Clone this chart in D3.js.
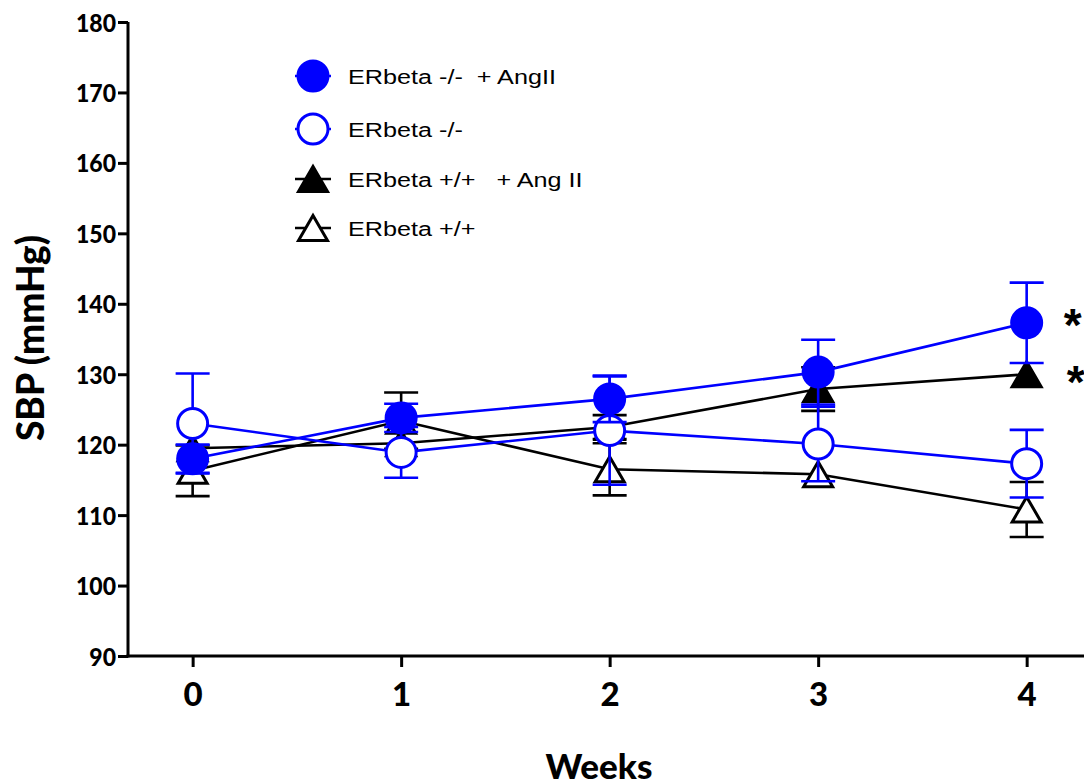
<!DOCTYPE html>
<html><head><meta charset="utf-8">
<script src="https://cdn.jsdelivr.net/npm/d3@7"></script>
<style>body{margin:0;background:#fff}svg{display:block}</style>
</head><body>
<svg id="c" width="1084" height="782"></svg>
<script>
const weeks = [0, 1, 2, 3, 4];
const yTicks = [90, 100, 110, 120, 130, 140, 150, 160, 170, 180];
const koAng = [118.0, 123.8, 126.5, 130.3, 137.3];
const koAngErr = [2.0, 2.0, 3.3, 4.6, 5.7];
const ko = [123.0, 118.9, 122.0, 120.1, 117.3];
const koErr = [7.1, 3.6, 7.7, 5.3, 4.8];
const wtAng = [119.5, 120.2, 122.5, 127.9, 130.0];
const wtAngErr = [0, 0, 1.7, 3.1, 0];
const wt = [116.3, 123.4, 116.5, 115.8, 110.8];
const wtErr = [3.6, 4.0, 3.7, 0, 3.9];
const labels = ["ERbeta -/-  + AngII", "ERbeta -/-", "ERbeta +/+   + Ang II", "ERbeta +/+"];
const stars = [{w: 4, v: 138.2}, {w: 4, v: 130.2}];

const series = [
  {name: labels[3], vals: wt, err: wtErr, color: "#000", shape: "tri", fill: "#fff"},
  {name: labels[2], vals: wtAng, err: wtAngErr, color: "#000", shape: "tri", fill: "#000"},
  {name: labels[1], vals: ko, err: koErr, color: "#0000ff", shape: "circ", fill: "#fff"},
  {name: labels[0], vals: koAng, err: koAngErr, color: "#0000ff", shape: "circ", fill: "#0000ff"}
];

const svg = d3.select("#c");
const x = d3.scaleLinear().domain([-0.31, 4.275]).range([128, 1084]);
const y = d3.scaleLinear().domain([90, 180]).range([656, 22]);
const bold = "Lato, 'Open Sans', sans-serif";

// axes
const ya = svg.append("g").attr("transform", "translate(128,0)")
  .call(d3.axisLeft(y).tickValues(yTicks).tickSize(10).tickSizeOuter(0).tickFormat(d3.format("d")));
ya.select(".domain").attr("stroke-width", 3).attr("d", "M0," + y(180) + "V" + (y(90) + 1.5));
ya.selectAll(".tick line").attr("stroke-width", 3);
ya.selectAll(".tick text").attr("x", 0).attr("dy", "0.36em")
  .attr("transform", `translate(-12,0) scale(0.92,1)`)
  .style("font-family", bold).style("font-weight", 900).style("font-size", "25px").attr("fill", "#000");

const xa = svg.append("g").attr("transform", "translate(0,656)")
  .call(d3.axisBottom(x).tickValues(weeks).tickSize(11).tickSizeOuter(0).tickFormat(d3.format("d")));
xa.select(".domain").attr("stroke-width", 3).attr("d", "M126.5,0H1084");
xa.selectAll(".tick line").attr("stroke-width", 3);
xa.selectAll(".tick text").attr("y", 50).attr("dy", 0)
  .style("font-family", bold).style("font-weight", 900).style("font-size", "33px").attr("fill", "#000");

svg.append("text").attr("x", 599).attr("y", 779).attr("text-anchor", "middle")
  .style("font-family", bold).style("font-weight", 900).style("font-size", "35px").text("Weeks");
svg.append("text").attr("transform", `translate(44,338) rotate(-90)`).attr("text-anchor", "middle")
  .style("font-family", bold).style("font-weight", 900).style("font-size", "37px").text("SBP (mmHg)");

function triPath(cx, cy) {
  const w = 29, h = 25;
  return `M${cx},${cy - h / 2}L${cx + w / 2},${cy + h / 2}L${cx - w / 2},${cy + h / 2}Z`;
}
function marker(g, s, cx, cy) {
  if (s.shape === "circ") {
    g.append("circle").attr("cx", cx).attr("cy", cy).attr("r", 15)
      .attr("fill", s.fill).attr("stroke", s.color).attr("stroke-width", 3);
  } else {
    g.append("path").attr("d", triPath(cx, cy)).attr("fill", s.fill)
      .attr("stroke", s.color).attr("stroke-width", 3).attr("stroke-linejoin", "miter");
  }
}

const line = d3.line().x((d, i) => x(weeks[i])).y(d => y(d));
series.forEach(s => {
  const g = svg.append("g");
  g.append("path").attr("d", line(s.vals)).attr("fill", "none").attr("stroke", s.color).attr("stroke-width", 2.6);
  s.vals.forEach((v, i) => {
    if (!s.err[i]) return;
    const cx = x(weeks[i]);
    const y1 = y(v + s.err[i]), y2 = y(v - s.err[i]);
    g.append("line").attr("x1", cx).attr("x2", cx).attr("y1", y1).attr("y2", y2).attr("stroke", s.color).attr("stroke-width", 2.6);
    [y1, y2].forEach(yy => g.append("line").attr("x1", cx - 17).attr("x2", cx + 17).attr("y1", yy).attr("y2", yy)
      .attr("stroke", s.color).attr("stroke-width", 2.6));
  });
  s.vals.forEach((v, i) => marker(g, s, x(weeks[i]), y(v)));
});

// stars
stars.forEach((st, i) => {
  svg.append("text").attr("x", x(st.w) + 46 + i * 3).attr("y", y(st.v) + 25).attr("text-anchor", "middle")
    .style("font-family", "'Liberation Sans', Arial, sans-serif").style("font-weight", "bold").style("font-size", "46px").text("*");
});

// legend
const legRows = [76, 129, 179, 228];
[3, 2, 1, 0].forEach((si, r) => {
  const s = series[si];
  const g = svg.append("g");
  const cy = legRows[r];
  g.append("line").attr("x1", 295).attr("x2", 331).attr("y1", cy).attr("y2", cy).attr("stroke", s.color).attr("stroke-width", 2.6);
  marker(g, s, 313, cy);
  g.append("text").attr("transform", `translate(348,${cy + 8}) scale(1.2,1)`)
    .style("font-family", "'Liberation Sans', Arial, sans-serif").style("font-size", "21px").style("white-space", "pre")
    .attr("xml:space", "preserve").text(s.name);
});
</script>
</body></html>
